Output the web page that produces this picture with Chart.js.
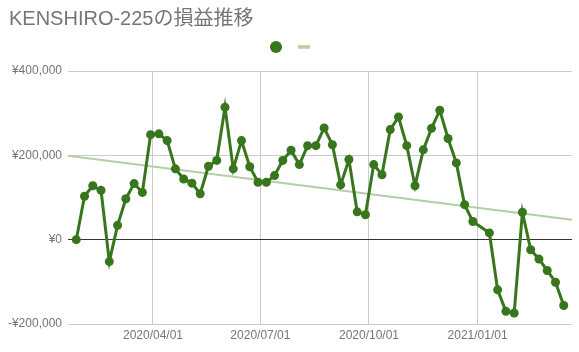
<!DOCTYPE html>
<html>
<head>
<meta charset="utf-8">
<script src="https://cdn.jsdelivr.net/npm/chart.js@4/dist/chart.umd.min.js"></script>
<style>
  html, body { margin: 0; padding: 0; background: #fff; }
  #wrap { width: 579px; height: 352px; }
</style>
</head>
<body>
<div id="wrap"><canvas id="chart" width="579" height="352"></canvas></div>
<script>
const TITLE = 'KENSHIRO-225の損益推移';

// weekly dates (no point for the first week of January)
const dates = [
    '2020-01-27', '2020-02-03', '2020-02-10', '2020-02-17', '2020-02-24',
    '2020-03-02', '2020-03-09', '2020-03-16', '2020-03-23', '2020-03-30',
    '2020-04-06', '2020-04-13', '2020-04-20', '2020-04-27', '2020-05-04',
    '2020-05-11', '2020-05-18', '2020-05-25', '2020-06-01', '2020-06-08',
    '2020-06-15', '2020-06-22', '2020-06-29', '2020-07-06', '2020-07-13',
    '2020-07-20', '2020-07-27', '2020-08-03', '2020-08-10', '2020-08-17',
    '2020-08-24', '2020-08-31', '2020-09-07', '2020-09-14', '2020-09-21',
    '2020-09-28', '2020-10-05', '2020-10-12', '2020-10-19', '2020-10-26',
    '2020-11-02', '2020-11-09', '2020-11-16', '2020-11-23', '2020-11-30',
    '2020-12-07', '2020-12-14', '2020-12-21', '2020-12-28',
    '2021-01-11', '2021-01-18', '2021-01-25', '2021-02-01', '2021-02-08',
    '2021-02-15', '2021-02-22', '2021-03-01', '2021-03-08', '2021-03-15'
];

const profit = [
    0, 103000, 128000, 117000, -52000,
    34000, 97000, 133000, 112000, 249000,
    251000, 235000, 168000, 144000, 134000,
    109000, 174000, 188000, 314000, 168000,
    235000, 173000, 136000, 136000, 152000,
    188000, 212000, 178000, 223000, 223000,
    265000, 225000, 130000, 190000, 66000,
    59000, 178000, 154000, 261000, 291000,
    223000, 128000, 213000, 264000, 307000,
    240000, 182000, 83000, 43000,
    16000, -119000, -170000, -174000, 65000,
    -24000, -46000, -73000, -101000, -156000
];

// trend line ends, at the edges of the x range
const trendDates = ['2020-01-20', '2021-03-22'];
const trendValues = [199000, 47000];

const xTickDates = ['2020-04-01', '2020-07-01', '2020-10-01', '2021-01-01'];
const yTicks = [-200000, 0, 200000, 400000];

const SERIES_COLOR = '#38761d';
const TREND_COLOR = '#b2cfa5';
const TEXT_COLOR = '#757575';
const FONT = "Arial, 'Liberation Sans', 'Noto Sans CJK JP', sans-serif";

const toTime = s => Date.parse(s + 'T00:00:00Z');

function fmtDate(v) {
    const d = new Date(v);
    const mm = String(d.getUTCMonth() + 1).padStart(2, '0');
    const dd = String(d.getUTCDate()).padStart(2, '0');
    return `${d.getUTCFullYear()}/${mm}/${dd}`;
}

function fmtYen(v) {
    const s = '¥' + Math.abs(v).toLocaleString('en-US');
    return v < 0 ? '-' + s : s;
}

// title and legend drawn at fixed spots like the original
const headerPlugin = {
    id: 'header',
    afterDraw(chart) {
        const ctx = chart.ctx;
        ctx.save();
        ctx.fillStyle = TEXT_COLOR;
        ctx.font = `20px ${FONT}`;
        ctx.textBaseline = 'alphabetic';
        ctx.textAlign = 'left';
        ctx.fillText(TITLE, 9, 25);

        ctx.fillStyle = SERIES_COLOR;
        ctx.beginPath();
        ctx.arc(276, 47, 6, 0, Math.PI * 2);
        ctx.fill();

        ctx.strokeStyle = TREND_COLOR;
        ctx.lineWidth = 3.5;
        ctx.beginPath();
        ctx.moveTo(298, 47);
        ctx.lineTo(310, 47);
        ctx.stroke();
        ctx.restore();
    }
};

new Chart(document.getElementById('chart'), {
    type: 'line',
    data: {
        datasets: [
            {
                label: '損益',
                data: dates.map((d, i) => ({ x: toTime(d), y: profit[i] })),
                borderColor: SERIES_COLOR,
                backgroundColor: SERIES_COLOR,
                borderWidth: 3,
                pointRadius: 4.5,
                pointBorderWidth: 0,
                tension: 0
            },
            {
                label: 'トレンド',
                data: trendDates.map((d, i) => ({ x: toTime(d), y: trendValues[i] })),
                borderColor: TREND_COLOR,
                borderWidth: 2,
                pointRadius: 0,
                tension: 0
            }
        ]
    },
    options: {
        responsive: false,
        animation: false,
        layout: { padding: { top: 71, right: 7, left: 0, bottom: 0 } },
        plugins: {
            legend: { display: false },
            title: { display: false },
            tooltip: { enabled: false }
        },
        scales: {
            x: {
                type: 'linear',
                min: toTime(trendDates[0]),
                max: toTime(trendDates[1]),
                afterBuildTicks: scale => {
                    scale.ticks = xTickDates.map(d => ({ value: toTime(d) }));
                },
                afterFit: scale => { scale.height = 28; },
                border: { display: false },
                grid: { color: '#cccccc', drawTicks: false },
                ticks: {
                    padding: 4,
                    maxRotation: 0,
                    autoSkip: false,
                    color: TEXT_COLOR,
                    font: { family: FONT, size: 12 },
                    callback: v => fmtDate(v)
                }
            },
            y: {
                min: yTicks[0],
                max: yTicks[yTicks.length - 1],
                afterBuildTicks: scale => {
                    scale.ticks = yTicks.map(v => ({ value: v }));
                },
                afterFit: scale => { scale.width = 68; },
                border: { display: false },
                grid: {
                    drawTicks: false,
                    color: ctx => (ctx.tick && ctx.tick.value === 0 ? '#333333' : '#cccccc')
                },
                ticks: {
                    padding: 6,
                    color: TEXT_COLOR,
                    font: { family: FONT, size: 12 },
                    callback: v => fmtYen(v)
                }
            }
        }
    },
    plugins: [headerPlugin]
});
</script>
</body>
</html>
